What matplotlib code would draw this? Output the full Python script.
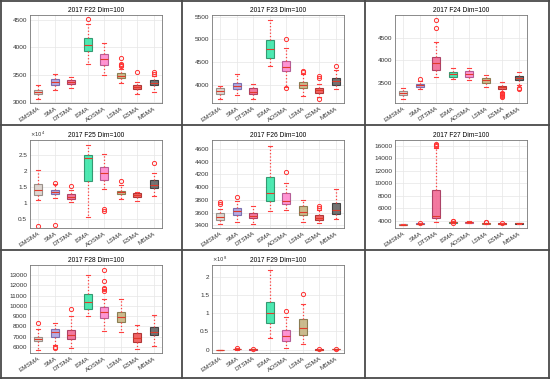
import numpy as np
import matplotlib
matplotlib.use('Agg')
import matplotlib.pyplot as plt
from matplotlib.lines import Line2D

plt.rcParams['font.family'] = ['Liberation Sans', 'DejaVu Sans']

methods = ['EMSMA', 'SMA', 'DTSMA', 'ISMA', 'AOSMA', 'LSMA', 'ESMA', 'MSMA']
face_colors = ['#d9d0ca', '#a79de0', '#f2628f', '#2fe6a5', '#ff82cc', '#c2b07a', '#f04a4a', '#5a5a5a']
edge_colors = ['#8a8078', '#6a5ea3', '#9e2e55', '#1f8a60', '#a84c89', '#7b6e40', '#a32222', '#2e2e2e']

# box stats per function: (q1, med, q3, whislo, whishi, fliers)
F22 = [(3150, 3175, 3210, 3060, 3310, []),
       (3310, 3360, 3410, 3210, 3510, []),
       (3320, 3360, 3400, 3250, 3450, []),
       (3940, 4040, 4170, 3690, 4430, [4510]),
       (3680, 3790, 3880, 3500, 4080, []),
       (3430, 3480, 3520, 3340, 3610, [3650, 3680, 3700, 3800]),
       (3230, 3270, 3310, 3150, 3370, [3540]),
       (3310, 3350, 3400, 3190, 3480, [3510, 3540])]
F23 = [(3800, 3860, 3920, 3680, 3970, []),
       (3900, 3970, 4040, 3780, 4230, []),
       (3790, 3850, 3920, 3680, 4010, []),
       (4590, 4800, 4980, 4420, 5420, []),
       (4310, 4400, 4520, 3960, 4820, [5020, 3920]),
       (3930, 4000, 4070, 3760, 4250, [4280, 4300]),
       (3830, 3880, 3930, 3740, 4020, [4160, 4200, 3680]),
       (3990, 4080, 4160, 3900, 4330, [4420])]
F24 = [(3220, 3270, 3320, 3130, 3390, []),
       (3400, 3440, 3480, 3360, 3530, [3590]),
       (3780, 3930, 4060, 3620, 4410, [4710, 4880]),
       (3630, 3690, 3740, 3580, 3830, []),
       (3620, 3700, 3760, 3560, 3830, []),
       (3490, 3560, 3610, 3400, 3670, []),
       (3360, 3400, 3420, 3300, 3510, [3190, 3210, 3230, 3250, 3270]),
       (3550, 3610, 3650, 3450, 3740, [3360, 3380])]
F25 = [(1.24, 1.40, 1.58, 1.08, 2.03, [0.28]),
       (1.26, 1.34, 1.40, 1.14, 1.58, [1.62, 0.31]),
       (1.12, 1.19, 1.26, 1.03, 1.40, [1.52]),
       (1.67, 2.38, 2.50, 0.56, 2.80, []),
       (1.71, 1.94, 2.12, 1.43, 2.53, [0.75, 0.80]),
       (1.29, 1.34, 1.38, 1.13, 1.54, [1.67]),
       (1.18, 1.25, 1.31, 1.06, 1.35, []),
       (1.46, 1.55, 1.71, 1.20, 1.92, [2.25])]
F26 = [(3480, 3530, 3590, 3420, 3660, [3740, 3760]),
       (3560, 3620, 3680, 3450, 3780, [3850]),
       (3510, 3550, 3600, 3430, 3710, []),
       (3790, 3910, 4160, 3620, 4650, []),
       (3740, 3790, 3910, 3640, 4060, [4240]),
       (3570, 3610, 3700, 3450, 3800, []),
       (3480, 3520, 3560, 3440, 3650, [3680, 3700]),
       (3580, 3650, 3750, 3500, 3970, [])]
F27 = [(3300, 3350, 3400, 3250, 3450, []),
       (3480, 3520, 3570, 3400, 3650, [3700]),
       (4350, 4800, 8950, 3750, 15700, [15900, 16100, 16300]),
       (3650, 3720, 3800, 3600, 3850, [3900, 3950, 3550]),
       (3700, 3760, 3830, 3650, 3880, []),
       (3520, 3580, 3650, 3470, 3700, [3750, 3800]),
       (3450, 3500, 3550, 3400, 3600, [3650]),
       (3520, 3570, 3620, 3480, 3660, [])]
F28 = [(6550, 6800, 7000, 5700, 7800, [8350]),
       (7000, 7450, 7800, 6200, 8350, [5950, 6050]),
       (6750, 7200, 7700, 5950, 9000, [9700]),
       (9700, 10350, 11150, 9000, 13000, []),
       (8850, 9400, 9900, 7600, 10700, [11400, 11600, 11700, 12400, 13500]),
       (8400, 8900, 9450, 7450, 10700, []),
       (6500, 6850, 7350, 5800, 8100, []),
       (7150, 7500, 7950, 6100, 9100, [])]
F29 = [(0.002, 0.003, 0.004, 0.001, 0.005, []),
       (0.01, 0.02, 0.03, 0.005, 0.04, [0.05]),
       (0.005, 0.012, 0.02, 0.002, 0.025, [0.03]),
       (0.72, 1.00, 1.30, 0.33, 2.18, []),
       (0.25, 0.37, 0.53, 0.06, 0.90, [1.05]),
       (0.39, 0.59, 0.83, 0.17, 1.26, [1.53]),
       (0.003, 0.005, 0.007, 0.001, 0.009, [0.012]),
       (0.006, 0.01, 0.013, 0.003, 0.015, [0.016])]

panels = [('2017 F22 Dim=100', F22, (2980, 4590), [3000, 3500, 4000, 4500], None),
          ('2017 F23 Dim=100', F23, (3600, 5540), [4000, 4500, 5000, 5500], None),
          ('2017 F24 Dim=100', F24, (3050, 5000), [3500, 4000, 4500], None),
          ('2017 F25 Dim=100', F25, (0.22, 2.95), [0.5, 1, 1.5, 2, 2.5], 4),
          ('2017 F26 Dim=100', F26, (3360, 4740), list(range(3400, 4601, 200)), None),
          ('2017 F27 Dim=100', F27, (2830, 16900), list(range(4000, 16001, 2000)), None),
          ('2017 F28 Dim=100', F28, (5420, 13970), list(range(6000, 13001, 1000)), None),
          ('2017 F29 Dim=100', F29, (-0.09, 2.32), [0, 0.5, 1, 1.5, 2], 8)]

W, H = 550, 379
fig = plt.figure(figsize=(W / 100, H / 100), dpi=100)
fig.patch.set_facecolor('white')

col_x = [0, 182, 365]
row_y = [0, 125, 250]

for i, (title, data, ylim, yticks, expo) in enumerate(panels):
    r, c = divmod(i, 3)
    left = col_x[c] + 30
    top = row_y[r] + 15
    ax = fig.add_axes([left / W, 1 - (top + 88) / H, 132 / W, 88 / H])
    stats = []
    for q1, med, q3, lo, hi, fl in data:
        stats.append(dict(q1=q1, med=med, q3=q3, whislo=lo, whishi=hi, fliers=fl))
    bp = ax.bxp(stats, positions=range(1, 9), widths=0.5, patch_artist=True,
                medianprops=dict(color='#e03a2a', lw=0.8),
                whiskerprops=dict(color='#ff4040', ls=':', lw=0.9),
                capprops=dict(color='#ff4040', lw=0.8),
                flierprops=dict(marker='o', mfc='none', mec='#ff3030', ms=3, mew=0.7))
    for k, b in enumerate(bp['boxes']):
        b.set_facecolor(face_colors[k])
        b.set_alpha(0.85)
        b.set_edgecolor(edge_colors[k])
        b.set_linewidth(0.8)
    ax.set_xlim(0.5, 8.5)
    ax.set_ylim(*ylim)
    ax.set_yticks(yticks)
    ax.set_yticklabels([('%g' % t) for t in yticks], fontsize=4.6, color='#333333')
    ax.set_xticks(range(1, 9))
    ax.set_xticklabels(methods, fontsize=4.6, rotation=33, ha='right',
                       rotation_mode='anchor', color='#333333')
    ax.tick_params(length=0, pad=2)
    ax.grid(True, color='#e6e6e6', lw=0.5)
    ax.set_axisbelow(True)
    for s in ax.spines.values():
        s.set_color('#777777')
        s.set_linewidth(0.6)
    ax.set_title(title, fontsize=4.8, pad=2)
    if expo:
        ax.text(0.0, 1.01, r'$\times10^{%d}$' % expo, transform=ax.transAxes,
                fontsize=3.8, color='#333333', va='bottom', ha='left')

# panel border lines
lc = '#4a4a4a'
for x in [1, 182, 365, W - 1]:
    fig.add_artist(Line2D([x / W, x / W], [0, 1], color=lc, lw=1.3))
for y in [1, 125, 250, H - 1]:
    fig.add_artist(Line2D([0, 1], [1 - y / H, 1 - y / H], color=lc, lw=1.3))

fig.savefig('out.png', dpi=100)
